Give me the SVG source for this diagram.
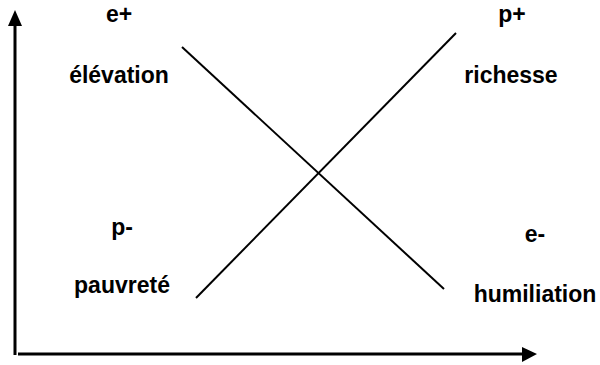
<svg xmlns="http://www.w3.org/2000/svg" width="600" height="365" viewBox="0 0 600 365">
<style>
.lbl{font-family:"Liberation Sans",Arial,sans-serif;font-weight:bold;font-size:23px;fill:#000;text-anchor:middle}
.ln{stroke:#000;stroke-width:2;fill:none}
.ax{stroke:#000;stroke-width:3;fill:none}
</style>
<rect width="600" height="365" fill="#fff"/>
<g id="axes">
<line class="ax" x1="15" y1="355" x2="15" y2="24"/>
<polygon points="15,10 8,26 22,26" fill="#000"/>
<line class="ax" x1="18" y1="354" x2="524" y2="354"/>
<polygon points="537,354 522,347 522,362" fill="#000"/>
</g>
<g id="connectors">
<line class="ln" x1="182" y1="47" x2="444" y2="289"/>
<line class="ln" x1="196" y1="298" x2="456" y2="33"/>
</g>
<g id="e-plus"><text class="lbl" x="119" y="22">e+</text></g>
<g id="elevation"><text class="lbl" x="119" y="83">élévation</text></g>
<g id="p-plus"><text class="lbl" x="512" y="22">p+</text></g>
<g id="richesse"><text class="lbl" x="511" y="83">richesse</text></g>
<g id="p-minus"><text class="lbl" x="122" y="235">p-</text></g>
<g id="pauvrete"><text class="lbl" x="122" y="293">pauvreté</text></g>
<g id="e-minus"><text class="lbl" x="535" y="242">e-</text></g>
<g id="humiliation"><text class="lbl" x="535" y="302">humiliation</text></g>
</svg>
